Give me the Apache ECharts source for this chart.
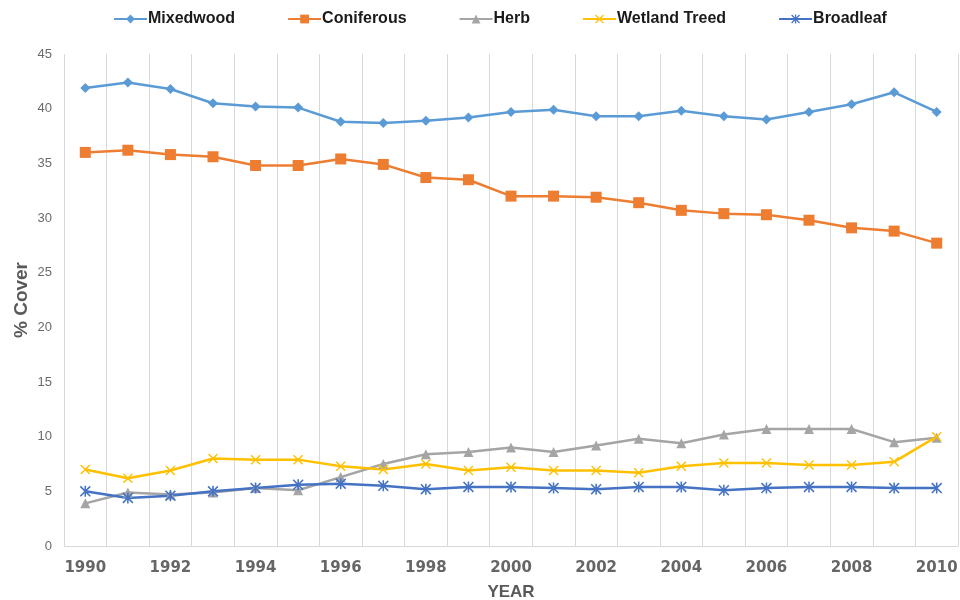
<!DOCTYPE html>
<html>
<head>
<meta charset="utf-8">
<script src="https://cdn.jsdelivr.net/npm/echarts@6/dist/echarts.min.js"></script>
<style>
  html, body { margin: 0; padding: 0; background: #fff; }
  #chart { width: 960px; height: 600px; }
</style>
</head>
<body>
<div id="chart"></div>
<script>
// Land cover share by year
const years = ['1990','1991','1992','1993','1994','1995','1996','1997','1998','1999','2000',
               '2001','2002','2003','2004','2005','2006','2007','2008','2009','2010'];

const mixedwood   = [41.9, 42.4, 41.8, 40.5, 40.2, 40.1, 38.8, 38.7, 38.9, 39.2, 39.7,
                     39.9, 39.3, 39.3, 39.8, 39.3, 39.0, 39.7, 40.4, 41.5, 39.7];
const coniferous  = [36.0, 36.2, 35.8, 35.6, 34.8, 34.8, 35.4, 34.9, 33.7, 33.5, 32.0,
                     32.0, 31.9, 31.4, 30.7, 30.4, 30.3, 29.8, 29.1, 28.8, 27.7];
const herb        = [3.9, 4.9, 4.7, 4.9, 5.3, 5.1, 6.3, 7.5, 8.4, 8.6, 9.0,
                     8.6, 9.2, 9.8, 9.4, 10.2, 10.7, 10.7, 10.7, 9.5, 9.9];
const wetland     = [7.0, 6.2, 6.9, 8.0, 7.9, 7.9, 7.3, 7.0, 7.5, 6.9, 7.2,
                     6.9, 6.9, 6.7, 7.3, 7.6, 7.6, 7.4, 7.4, 7.7, 10.0];
const broadleaf   = [5.0, 4.4, 4.6, 5.0, 5.3, 5.6, 5.7, 5.5, 5.2, 5.4, 5.4,
                     5.3, 5.2, 5.4, 5.4, 5.1, 5.3, 5.4, 5.4, 5.3, 5.3];

const seriesNames = ['Mixedwood', 'Coniferous', 'Herb', 'Wetland Treed', 'Broadleaf'];
const yTicks = { min: 0, max: 45, step: 5 };

// Marker shapes
const crossMark = 'path://M0,1L1,0L10,9L9,10Z M9,0L10,1L1,10L0,9Z';
const starMark  = 'path://M0,1L1,0L10,9L9,10Z M9,0L10,1L1,10L0,9Z M4.3,0L5.7,0L5.7,10L4.3,10Z';

function lineSeries(name, data, color, symbol, size) {
  return {
    name: name,
    type: 'line',
    data: data,
    symbol: symbol,
    symbolSize: size,
    showSymbol: true,
    lineStyle: { color: color, width: 2.5 },
    itemStyle: { color: color, borderColor: color, borderWidth: 0 },
    emphasis: { disabled: true },
    z: 3
  };
}

const chart = echarts.init(document.getElementById('chart'), null, { renderer: 'canvas' });
chart.setOption({
  animation: false,
  backgroundColor: '#ffffff',
  textStyle: { fontFamily: 'Liberation Sans, Arial, sans-serif' },
  legend: {
    top: 6,
    left: 108,
    itemGap: 52,
    itemWidth: 33,
    itemHeight: 11,
    textStyle: { fontSize: 16, fontWeight: 'bold', color: '#1a1a1a', padding: [0, 0, 0, -4] },
    data: seriesNames
  },
  grid: { left: 64, right: 2, top: 54, bottom: 54, containLabel: false, outerBoundsMode: 'none' },
  xAxis: {
    type: 'category',
    data: years,
    boundaryGap: true,
    name: 'YEAR',
    nameLocation: 'middle',
    nameGap: 38,
    nameTextStyle: { fontSize: 17, fontWeight: 'bold', color: '#595959' },
    axisLine: { show: true, lineStyle: { color: '#d9d9d9', width: 1 } },
    axisTick: { show: false },
    axisLabel: {
      interval: 1, color: '#666666', fontSize: 15, fontWeight: 'bold', margin: 15,
      fontFamily: 'DejaVu Sans, Verdana, sans-serif'
    },
    splitLine: { show: true, interval: 0, lineStyle: { color: '#d9d9d9', width: 1 } }
  },
  yAxis: {
    type: 'value',
    min: yTicks.min,
    max: yTicks.max,
    interval: yTicks.step,
    name: '% Cover',
    nameLocation: 'middle',
    nameGap: 33,
    nameMoveOverlap: false,
    nameRotate: 90,
    nameTextStyle: { fontSize: 19, fontWeight: 'bold', color: '#595959' },
    axisLine: { show: false },
    axisTick: { show: false },
    axisLabel: { color: '#6b6b6b', fontSize: 13, margin: 12 },
    splitLine: { show: false }
  },
  series: [
    lineSeries('Mixedwood', mixedwood, '#5B9BD5', 'diamond', 10),
    lineSeries('Coniferous', coniferous, '#ED7D31', 'rect', 11),
    lineSeries('Herb', herb, '#A5A5A5', 'triangle', 10),
    lineSeries('Wetland Treed', wetland, '#FFC000', crossMark, 10),
    lineSeries('Broadleaf', broadleaf, '#4472C4', starMark, 11)
  ]
});
</script>
</body>
</html>
